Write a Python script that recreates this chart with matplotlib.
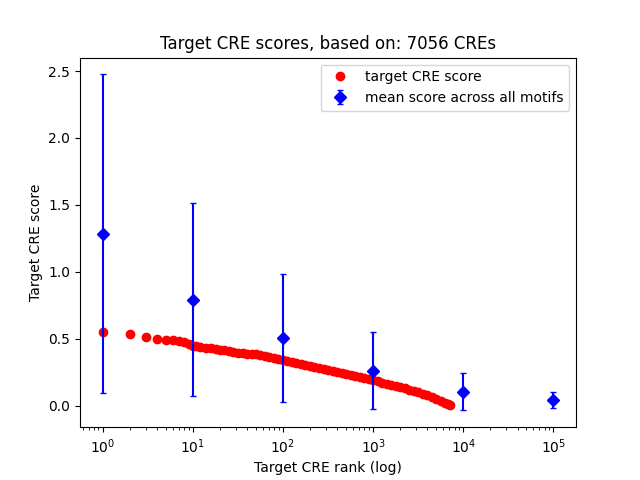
import numpy as np
import matplotlib
matplotlib.use('Agg')
import matplotlib.pyplot as plt

#Target CRE scores
rank = [1, 2, 3, 4, 5, 6, 7, 8, 9, 10, 11, 12, 14, 16, 18, 20, 22, 25, 28, 32,
        36, 40, 45, 50, 56, 63, 71, 79, 89, 100, 112, 126, 141, 158, 178, 200,
        224, 251, 282, 316, 355, 398, 447, 501, 562, 631, 708, 794, 891, 1000,
        1122, 1259, 1413, 1585, 1778, 1995, 2239, 2512, 2818, 3162, 3548, 3981,
        4467, 5012, 5623, 6310, 6700, 7056]
score = [0.549, 0.537, 0.516, 0.500, 0.492, 0.487, 0.481, 0.474, 0.462, 0.446,
         0.442, 0.438, 0.432, 0.427, 0.421, 0.416, 0.412, 0.406, 0.401, 0.396,
         0.391, 0.388, 0.385, 0.382, 0.377, 0.371, 0.364, 0.357, 0.350, 0.343,
         0.336, 0.329, 0.321, 0.313, 0.305, 0.297, 0.289, 0.281, 0.274, 0.266,
         0.258, 0.250, 0.243, 0.235, 0.227, 0.219, 0.211, 0.203, 0.196, 0.188,
         0.180, 0.172, 0.164, 0.156, 0.147, 0.138, 0.129, 0.120, 0.110, 0.100,
         0.090, 0.079, 0.066, 0.052, 0.037, 0.020, 0.010, 0.002]

#Mean score across all motifs with spread
mean_rank = [1, 10, 100, 1000, 10000, 100000]
mean_score = [1.285, 0.791, 0.507, 0.262, 0.105, 0.043]
mean_err = [1.19, 0.72, 0.48, 0.287, 0.141, 0.061]

fig, ax = plt.subplots(figsize=(6.4, 4.8), dpi=100)

ax.plot(rank, score, 'o', color='red', label='target CRE score')
ax.errorbar(mean_rank, mean_score, yerr=mean_err, fmt='D', color='blue',
            capsize=2, label='mean score across all motifs')

ax.set_xscale('log')
ax.set_title('Target CRE scores, based on: 7056 CREs')
ax.set_xlabel('Target CRE rank (log)')
ax.set_ylabel('Target CRE score')
ax.legend(loc='upper right')

fig.savefig('out.png')
